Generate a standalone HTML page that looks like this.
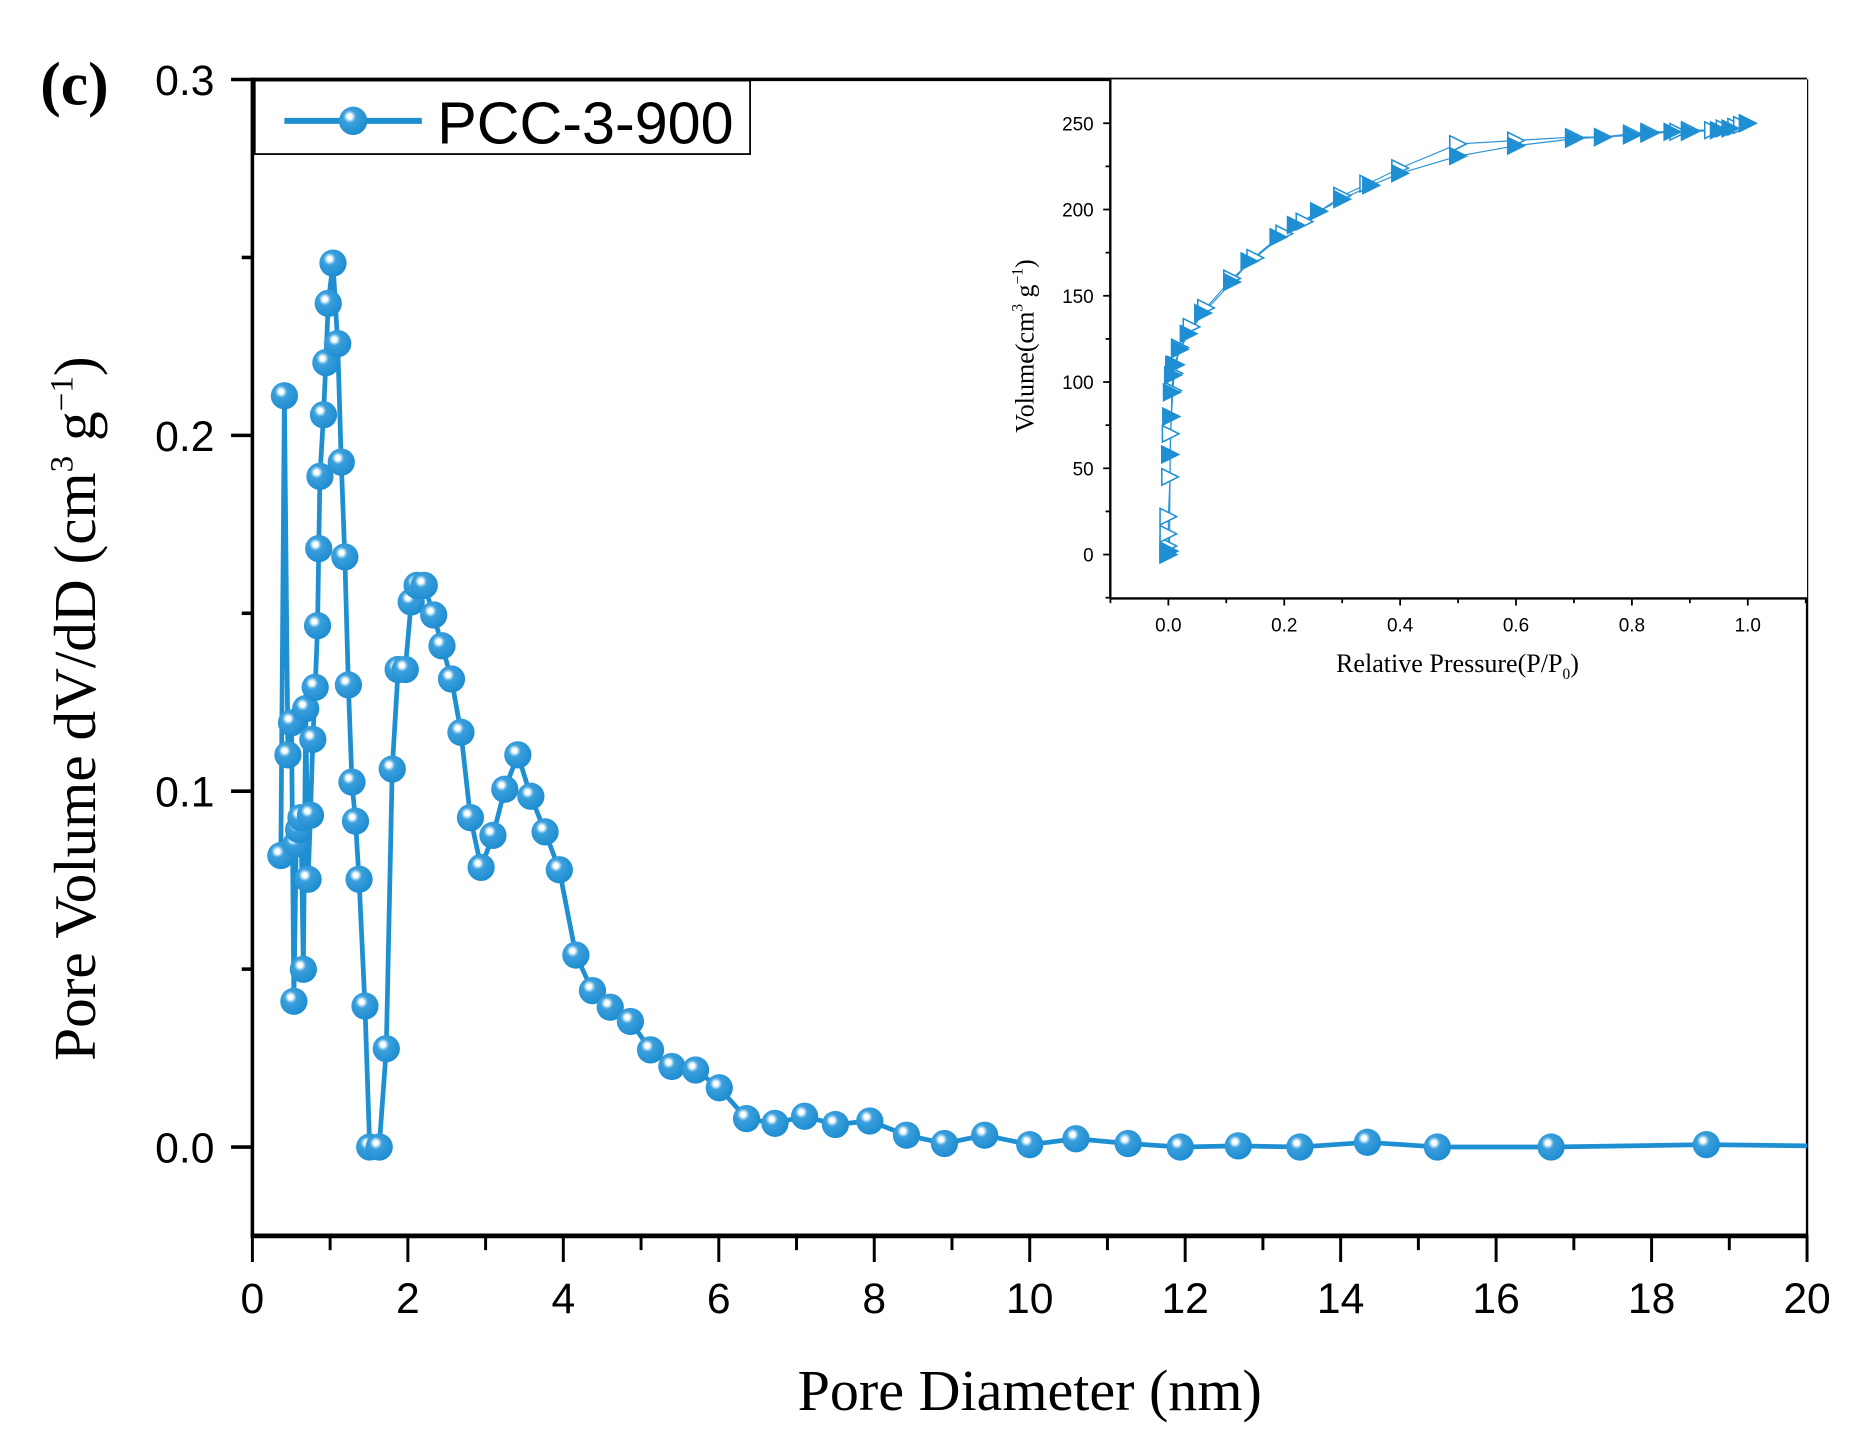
<!DOCTYPE html>
<html><head><meta charset="utf-8"><style>
html,body{margin:0;padding:0;background:#fff;}
svg{display:block;}
.ar{font-family:"Liberation Sans",Arial,sans-serif;}
.tr{font-family:"Liberation Serif","Times New Roman",serif;}
</style></head><body>
<svg id="s" width="1858" height="1451" viewBox="0 0 1568 1224.5" xmlns="http://www.w3.org/2000/svg">
<defs>
<radialGradient id="g" cx="0.38" cy="0.35" r="0.7">
<stop offset="0" stop-color="#ffffff"/>
<stop offset="0.12" stop-color="#ffffff"/>
<stop offset="0.2" stop-color="#a9d8f2"/>
<stop offset="0.32" stop-color="#3b9fdc"/>
<stop offset="1" stop-color="#1a8bd0"/>
</radialGradient>
</defs>
<rect width="1568" height="1224.5" fill="#fff"/>
<g id="main"></g>
<g id="inset"></g>
<text x="34" y="88" class="tr" font-size="52" font-weight="bold">(c)</text>
<text x="869" y="1190" class="tr" font-size="49" text-anchor="middle">Pore Diameter (nm)</text>
<text transform="translate(80,598) rotate(-90)" class="tr" font-size="50" text-anchor="middle">Pore Volume dV/dD (cm<tspan dy="-19" font-size="28">3</tspan><tspan dy="19"> g</tspan><tspan dy="-19" font-size="28">−1</tspan><tspan dy="19">)</tspan></text>
<text transform="translate(872,292) rotate(-90)" class="tr" font-size="22" text-anchor="middle">Volume(cm<tspan dy="-9" font-size="13">3</tspan><tspan dy="9"> g</tspan><tspan dy="-9" font-size="13">−1</tspan><tspan dy="9">)</tspan></text>
<text x="1230" y="567" class="tr" font-size="22" text-anchor="middle">Relative Pressure(P/P<tspan dy="6" font-size="13">0</tspan><tspan dy="-6">)</tspan></text>
</svg>
<script>
var NS="http://www.w3.org/2000/svg";
function el(p,t,a,txt){var e=document.createElementNS(NS,t);for(var k in a)e.setAttribute(k,a[k]);if(txt!==undefined)e.textContent=txt;p.appendChild(e);return e;}
var m=document.getElementById('main'), ins=document.getElementById('inset');
var L=213,R=1525,T=67,B=1043,Y0=968,PY=3003;
function X(v){return L+v*65.6;} function Y(v){return Y0-v*PY;}
el(m,'line',{x1:L,y1:T,x2:R,y2:T,stroke:'#000','stroke-width':3});
el(m,'line',{x1:L,y1:T-1.5,x2:L,y2:B,stroke:'#000','stroke-width':3});
el(m,'line',{x1:R,y1:T,x2:R,y2:B+1,stroke:'#000','stroke-width':2});
el(m,'line',{x1:L-1.5,y1:B,x2:R+1,y2:B,stroke:'#000','stroke-width':4});
[0,0.05,0.1,0.15,0.2,0.25,0.3].forEach(function(v){var maj=Math.abs(v*10-Math.round(v*10))<1e-6;
 el(m,'line',{x1:maj?L-18:L-9,y1:Y(v),x2:L,y2:Y(v),stroke:'#000','stroke-width':3});
 if(maj)el(m,'text',{x:181,y:Y(v)+13,'text-anchor':'end','font-size':36,'class':'ar'},v.toFixed(1));});
for(var k=0;k<=20;k++){var maj=k%2==0;el(m,'line',{x1:X(k),y1:B,x2:X(k),y2:B+(maj?22:12),stroke:'#000','stroke-width':2.5});
 if(maj)el(m,'text',{x:X(k),y:1108,'text-anchor':'middle','font-size':36,'class':'ar'},String(k));}
var pts=[[237,722],[240,334],[243,637],[246,610],[248,845],[250,712],[252,700],[254,690],[256,818],[258,598],[260,742],[262,688],[264,624],[266,580],[268,528],[269,463],[270,402],[273,350],[275,306],[277,256],[281,222],[285,290],[288,390],[291,470],[294,578],[297,660],[300,693],[303,742],[308,849],[312,968],[320,968],[326,885],[331,649],[336,565],[342,565],[347,508],[352,494],[358,494],[366,519],[373,545],[381,573],[389,618],[397,690],[406,732],[416,705],[426,666],[437,637],[448,672],[460,702],[472,734],[486,806],[500,836],[515,850],[532,862],[549,886],[567,900],[587,903],[607,918],[630,944],[654,948],[679,942],[705,949],[734,946],[765,958],[797,965],[831,958],[869,966],[908,961],[952,965],[996,968],[1045,967],[1097,968],[1154,964],[1213,968],[1309,968],[1440,966]];
var d='M'+pts.map(function(p){return p[0]+','+p[1];}).join(' L')+' L1525,967';
el(m,'path',{d:d,fill:'none',stroke:'#1e90d2','stroke-width':4,'stroke-linejoin':'round'});
pts.forEach(function(p){el(m,'circle',{cx:p[0],cy:p[1],r:11.5,fill:'url(#g)'});});
el(m,'rect',{x:215,y:68,width:418,height:62,fill:'#fff',stroke:'#000','stroke-width':1.5});
el(m,'line',{x1:240,y1:102,x2:356,y2:102,stroke:'#1e90d2','stroke-width':5});
el(m,'circle',{cx:298,cy:102,r:12,fill:'url(#g)'});
el(m,'text',{x:369,y:121,'font-size':50,'class':'ar'},'PCC-3-900');
var IL=937,IR=1525,IT=67,IB=505;
function PX(p){return 986+489*p;} function VY(v){return 468-1.456*v;}
el(ins,'rect',{x:IL,y:IT,width:IR-IL,height:IB-IT,fill:'#fff'});
el(ins,'line',{x1:IL,y1:IT,x2:IL,y2:IB,stroke:'#000','stroke-width':2});
el(ins,'line',{x1:IL,y1:IB,x2:IR,y2:IB,stroke:'#000','stroke-width':2});
for(var v=-25;v<=275;v+=25){var maj=v%50==0;el(ins,'line',{x1:IL-(maj?6:4),y1:VY(v),x2:IL,y2:VY(v),stroke:'#000','stroke-width':1.5});
 if(maj)el(ins,'text',{x:923,y:VY(v)+6,'text-anchor':'end','font-size':16,'class':'ar'},String(v));}
for(var k=-1;k<=11;k++){var p=k/10;var maj=k%2==0;el(ins,'line',{x1:PX(p),y1:IB,x2:PX(p),y2:IB+(maj?6:4),stroke:'#000','stroke-width':1.5});
 if(maj&&k>=0&&k<=10)el(ins,'text',{x:PX(p),y:533,'text-anchor':'middle','font-size':16,'class':'ar'},p.toFixed(1));}
var ad=[[0,0],[0,2],[0,5],[0,12],[0,22],[0.003,45],[0.003,58],[0.004,70],[0.005,80],[0.008,95],[0.01,105],[0.013,110],[0.02,120],[0.04,132],[0.065,143],[0.11,160],[0.15,172],[0.2,186],[0.235,193],[0.3,208],[0.345,215],[0.4,224],[0.5,238],[0.6,240],[0.7,242],[0.75,242],[0.8,244],[0.83,245],[0.88,245],[0.9,246],[0.94,246],[0.96,247],[0.98,248],[0.99,249],[1.0,250]];
var de=[[1.0,250],[0.97,247],[0.95,246],[0.9,245],[0.87,245],[0.83,244],[0.8,243],[0.75,242],[0.7,241],[0.6,237],[0.5,231],[0.4,221],[0.35,214],[0.3,206],[0.26,199],[0.22,191],[0.19,184],[0.14,170],[0.11,158],[0.06,140],[0.035,128],[0.02,119],[0.01,110],[0.008,104],[0.006,94],[0.005,80],[0.003,58],[0.002,2],[0,0]];
function line(a){return 'M'+a.map(function(q){return PX(q[0])+','+VY(q[1]);}).join(' L');}
el(ins,'path',{d:line(ad),fill:'none',stroke:'#2a93d5','stroke-width':1});
el(ins,'path',{d:line(de),fill:'none',stroke:'#2a93d5','stroke-width':1});
function tri(q,fill){var x=PX(q[0]),y=VY(q[1]);var s=7;
 el(ins,'path',{d:'M'+(x-s)+','+(y-s)+' L'+(x+s)+','+y+' L'+(x-s)+','+(y+s)+' Z',fill:fill?'#1e8fd3':'#fff',stroke:'#1e8fd3','stroke-width':1.3});}
ad.forEach(function(q){tri(q,false);});
de.forEach(function(q){tri(q,true);});
</script>
</body></html>
